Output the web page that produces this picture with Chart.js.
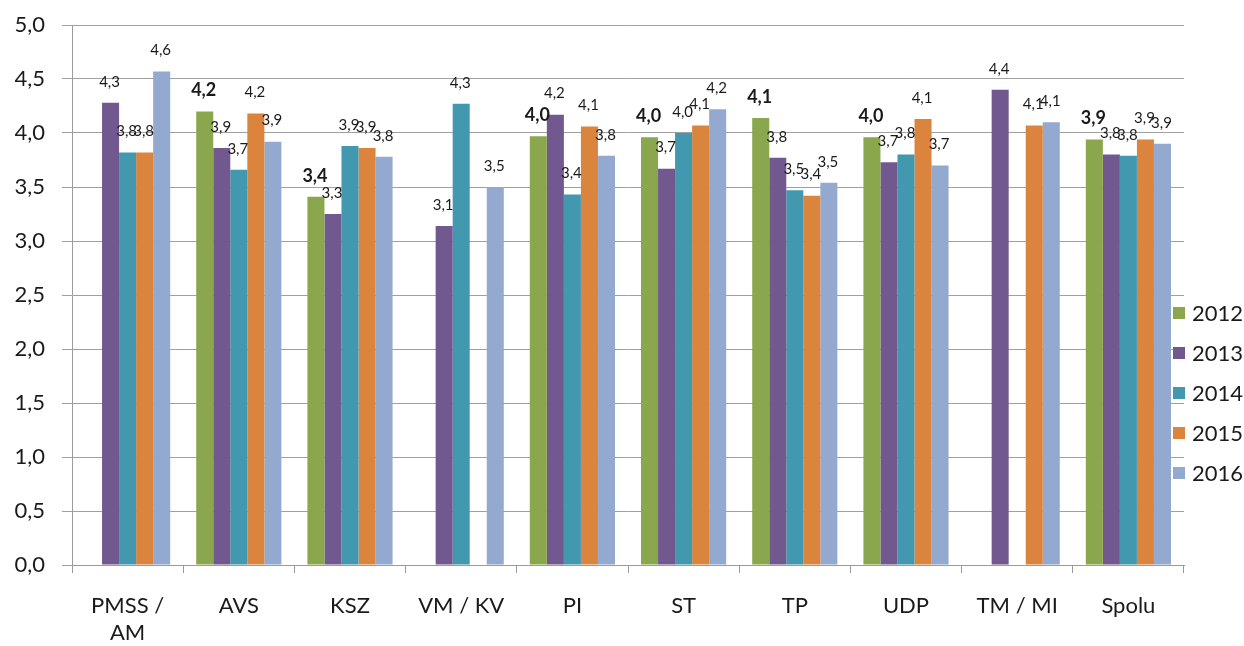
<!DOCTYPE html>
<html>
<head>
<meta charset="utf-8">
<script src="https://cdn.jsdelivr.net/npm/chart.js@4/dist/chart.umd.min.js"></script>
<style>
  body { margin: 0; background: #fff; }
  #wrap { width: 1244px; height: 646px; }
</style>
</head>
<body>
<div id="wrap"><canvas id="chart"></canvas></div>
<script>
const categories = [["PMSS /", "AM"], "AVS", "KSZ", "VM / KV", "PI", "ST", "TP", "UDP", "TM / MI", "Spolu"];
const years = ["2012", "2013", "2014", "2015", "2016"];
const colors = ["#8BA74D", "#71588F", "#4198AF", "#DB843D", "#93A9D0"];

const v2012 = [null, 4.20, 3.41, null, 3.97, 3.96, 4.14, 3.96, null, 3.94];
const v2013 = [4.28, 3.86, 3.25, 3.14, 4.17, 3.67, 3.77, 3.73, 4.40, 3.80];
const v2014 = [3.82, 3.66, 3.88, 4.27, 3.43, 4.00, 3.47, 3.80, null, 3.79];
const v2015 = [3.82, 4.18, 3.86, null, 4.06, 4.07, 3.42, 4.13, 4.07, 3.94];
const v2016 = [4.57, 3.92, 3.78, 3.50, 3.79, 4.22, 3.54, 3.70, 4.10, 3.90];

const yTicks = [0, 0.5, 1, 1.5, 2, 2.5, 3, 3.5, 4, 4.5, 5];

const fmt = (v) => v.toFixed(1).replace(".", ",");
const FONT = "Lato, 'Open Sans', sans-serif";

// value labels above bars
const barLabels = {
  id: "barLabels",
  afterDatasetsDraw(chart) {
    const ctx = chart.ctx;
    ctx.save();
    ctx.fillStyle = "#1a1a1a";
    ctx.textAlign = "center";
    ctx.textBaseline = "middle";
    chart.data.datasets.forEach((ds, i) => {
      const meta = chart.getDatasetMeta(i);
      ctx.font = i === 0 ? "bold 18px " + FONT : "15px " + FONT;
      meta.data.forEach((bar, j) => {
        const v = ds.data[j];
        if (v == null) return;
        ctx.fillText(fmt(v), bar.x - 1, bar.y - 21);
      });
    });
    ctx.restore();
  },
};

// legend on the right
const sideLegend = {
  id: "sideLegend",
  afterDraw(chart) {
    const ctx = chart.ctx;
    ctx.save();
    ctx.font = "22px " + FONT;
    ctx.textBaseline = "middle";
    ctx.textAlign = "left";
    chart.data.datasets.forEach((ds, i) => {
      const y = 313 + i * 40;
      ctx.fillStyle = ds.backgroundColor;
      ctx.fillRect(1173, y - 6, 12, 12);
      ctx.fillStyle = "#1a1a1a";
      ctx.fillText(ds.label, 1192, y + 1);
    });
    ctx.restore();
  },
};

const series = [v2012, v2013, v2014, v2015, v2016];

new Chart(document.getElementById("chart"), {
  type: "bar",
  data: {
    labels: categories,
    datasets: series.map((d, i) => ({
      label: years[i],
      data: d,
      backgroundColor: colors[i],
      borderWidth: 0,
      categoryPercentage: 0.766,
      barPercentage: 1.0,
    })),
  },
  options: {
    responsive: true,
    maintainAspectRatio: false,
    animation: false,
    layout: { padding: { left: 15, right: 60, top: 25, bottom: 0 } },
    plugins: {
      legend: { display: false },
      tooltip: { enabled: false },
    },
    scales: {
      x: {
        afterFit: (axis) => { axis.height = 81; },
        grid: { drawOnChartArea: false, tickLength: 8, color: "#9a9a9a" },
        border: { color: "#9a9a9a" },
        ticks: { font: { family: FONT, size: 22 }, color: "#1a1a1a", padding: 20, maxRotation: 0 },
      },
      y: {
        min: 0,
        max: 5,
        afterFit: (axis) => { axis.width = 57; },
        afterBuildTicks: (axis) => { axis.ticks = yTicks.map((v) => ({ value: v })); },
        grid: { color: "#a0a0a0", tickLength: 10 },
        border: { color: "#9a9a9a" },
        ticks: { font: { family: FONT, size: 22, lineHeight: 0.5 }, color: "#1a1a1a", padding: 17, callback: (v) => fmt(v) },
      },
    },
  },
  plugins: [barLabels, sideLegend],
});
</script>
</body>
</html>
